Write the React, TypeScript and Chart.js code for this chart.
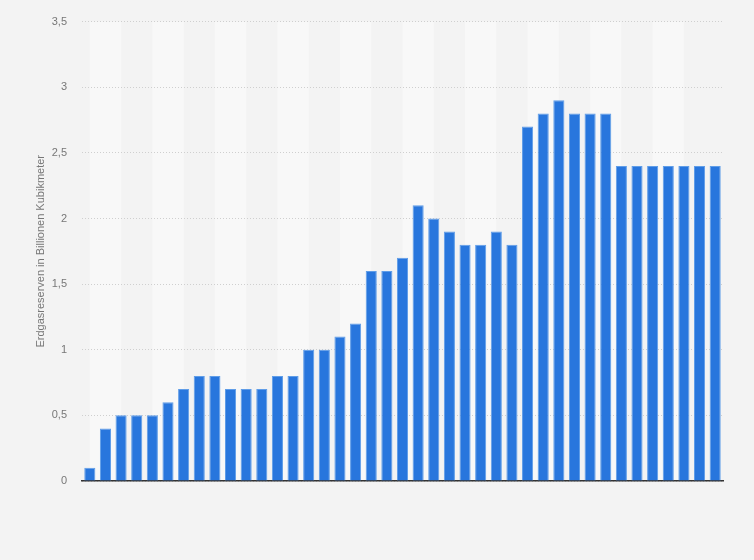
import React, { useEffect, useRef } from "react";
import { Chart, registerables } from "chart.js";

Chart.register(...registerables);

const categories: string[] = Array.from({ length: 41 }, (_, i) => String(i + 1));
const reserves: number[] = [
  0.1, 0.4, 0.5, 0.5, 0.5, 0.6, 0.7, 0.8, 0.8, 0.7,
  0.7, 0.7, 0.8, 0.8, 1.0, 1.0, 1.1, 1.2, 1.6, 1.6,
  1.7, 2.1, 2.0, 1.9, 1.8, 1.8, 1.9, 1.8, 2.7, 2.8,
  2.9, 2.8, 2.8, 2.8, 2.4, 2.4, 2.4, 2.4, 2.4, 2.4, 2.4,
];
const yAxisTitle = "Erdgasreserven in Billionen Kubikmeter";

const bgPlugin = {
  id: "bgStripes",
  beforeDraw(chart: any) {
    const { ctx, chartArea, scales } = chart;
    ctx.save();
    ctx.fillStyle = "#f3f3f3";
    ctx.fillRect(0, 0, chart.width, chart.height);
    ctx.fillStyle = "#f8f8f8";
    const x = scales.x;
    for (let i = 0; i + 2 < categories.length; i += 4) {
      const a = x.getPixelForValue(i);
      const b = x.getPixelForValue(i + 2);
      ctx.fillRect(a, chartArea.top, b - a, chartArea.bottom - chartArea.top);
    }
    ctx.restore();
  },
};

export default function App() {
  const ref = useRef<HTMLCanvasElement | null>(null);
  useEffect(() => {
    if (!ref.current) return;
    const chart = new Chart(ref.current, {
      type: "bar",
      data: {
        labels: categories,
        datasets: [
          {
            data: reserves,
            backgroundColor: "#2876dd",
            borderColor: "#5f9de8",
            borderWidth: 1,
            borderSkipped: "start",
            barPercentage: 0.71,
            categoryPercentage: 1,
          },
        ],
      },
      options: {
        animation: false,
        responsive: false,
        maintainAspectRatio: false,
        layout: { padding: { top: 21, right: 31, bottom: 79, left: 0 } },
        plugins: { legend: { display: false }, tooltip: { enabled: false } },
        scales: {
          x: {
            ticks: { display: false },
            grid: { display: false, drawTicks: false },
            border: { display: true, color: "#333333", width: 1.5 },
          },
          y: {
            min: 0,
            max: 3.5,
            ticks: {
              stepSize: 0.5,
              padding: 15,
              color: "#777777",
              font: { family: "'Liberation Sans', Arial, sans-serif", size: 11 },
              callback: (v: any) => String(v).replace(".", ","),
            },
            grid: { color: "#cfcfcf", drawTicks: false, lineWidth: 1 },
            border: { display: false, dash: [1, 2] },
            title: {
              display: true,
              text: yAxisTitle,
              color: "#777777",
              font: { family: "'Liberation Sans', Arial, sans-serif", size: 11 },
              padding: { top: 34, bottom: 0 },
            },
            afterFit: (scale: any) => {
              scale.width = 82;
            },
          },
        },
      },
      plugins: [bgPlugin],
    });
    return () => chart.destroy();
  }, []);
  return (
    <div style={{ position: "absolute", left: 0, top: 0, width: 754, height: 560 }}>
      <canvas ref={ref} width={754} height={560} style={{ display: "block" }} />
    </div>
  );
}
